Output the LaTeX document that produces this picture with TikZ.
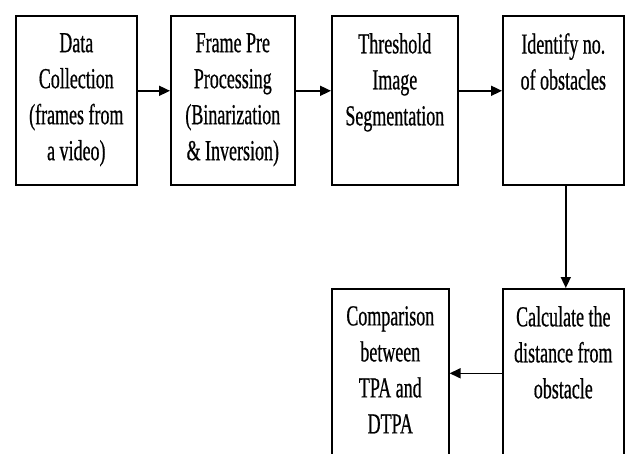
\documentclass[tikz,border=0pt]{standalone}
\usepackage{fontspec}
\setmainfont{Liberation Serif}[FakeStretch=0.62,FakeBold=0.6]
\usetikzlibrary{positioning,arrows.meta}
\begin{document}
\begin{tikzpicture}[x=1pt,y=-1pt,
	box/.style = {draw, line width=1.6pt, rectangle, inner sep=0pt, minimum height=169pt, anchor=north west},
	txt/.style = {align=center, inner sep=0pt, font=\fontsize{29}{36}\selectfont},
	arrow/.style = {line width=1.6pt, -{Triangle[length=11pt,width=10pt]}}]
	\useasboundingbox (0,0) rectangle (628,454);
	\clip (0,0) rectangle (628,454);

	\node[box, minimum width=121pt] (data) at (15,15) {};
	\node[box, minimum width=124pt] (pre) at (170,15) {};
	\node[box, minimum width=126pt] (thresh) at (331,15) {};
	\node[box, minimum width=121pt] (ident) at (502,15) {};
	\node[box, minimum width=121pt] (calc) at (502,288) {};
	\node[box, minimum width=117pt] (comp) at (331,288) {};

	\node[txt, below=18pt of data.north] (datatxt) {Data\\Collection\\(frames from\\a video)};
	\node[txt, below=18pt of pre.north] (pretxt) {Frame Pre\\Processing\\(Binarization\\\& Inversion)};
	\node[txt, below=18pt of thresh.north] (threshtxt) {Threshold\\Image\\Segmentation};
	\node[txt, below=18pt of ident.north] (identtxt) {Identify no.\\of obstacles};
	\node[txt, below=18pt of calc.north] (calctxt) {Calculate the\\distance from\\obstacle};
	\node[txt, below=18pt of comp.north] (comptxt) {Comparison\\between\\TPA and\\DTPA};

	\draw[arrow] ([yshift=9.5pt]data.east) to ([yshift=9.5pt]pre.west);
	\draw[arrow] ([yshift=9.5pt]pre.east) to ([yshift=9.5pt]thresh.west);
	\draw[arrow] ([yshift=9.5pt]thresh.east) to ([yshift=9.5pt]ident.west);
	\draw[arrow] ([xshift=2.5pt]ident.south) to ([xshift=2.5pt]calc.north);
	\draw[arrow] (calc.west) to (comp.east);

\end{tikzpicture}
\end{document}
